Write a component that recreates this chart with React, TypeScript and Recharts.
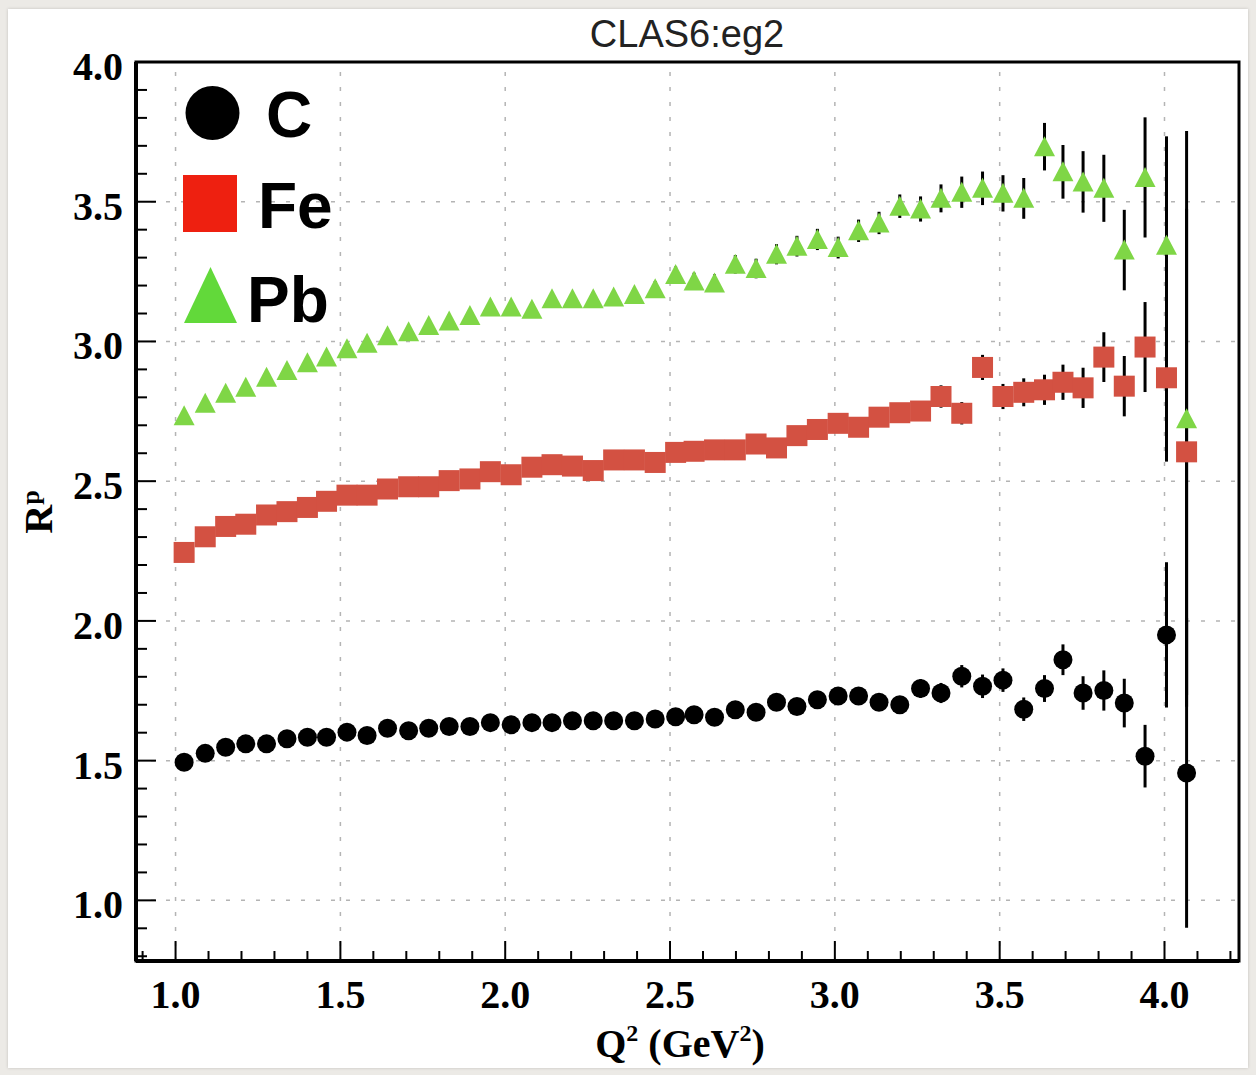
import React from 'react';
import {
  ScatterChart, Scatter, XAxis, YAxis, ErrorBar, ReferenceLine, ReferenceArea,
} from 'recharts';

// Q^2 bin centres (GeV^2), shared by the three targets
const Q2 = [
  1.026, 1.090, 1.152, 1.213, 1.276, 1.338, 1.400, 1.458, 1.520, 1.581,
  1.643, 1.707, 1.768, 1.830, 1.893, 1.955, 2.018, 2.081, 2.142, 2.204,
  2.267, 2.329, 2.392, 2.455, 2.517, 2.573, 2.635, 2.698, 2.761, 2.823,
  2.885, 2.947, 3.010, 3.072, 3.134, 3.197, 3.260, 3.322, 3.385, 3.448,
  3.510, 3.573, 3.636, 3.692, 3.753, 3.816, 3.878, 3.941, 4.006, 4.067,
];

const C_R = [
  1.494, 1.526, 1.548, 1.560, 1.560, 1.578, 1.584, 1.584, 1.602, 1.590,
  1.616, 1.607, 1.616, 1.622, 1.622, 1.636, 1.628, 1.636, 1.636, 1.643,
  1.643, 1.643, 1.643, 1.649, 1.657, 1.664, 1.655, 1.682, 1.673, 1.709,
  1.694, 1.718, 1.731, 1.731, 1.709, 1.700, 1.758, 1.742, 1.802, 1.766,
  1.788, 1.684, 1.758, 1.861, 1.742, 1.751, 1.706, 1.516, 1.950, 1.456,
];
const C_ERR = [
  0.006, 0.006, 0.006, 0.006, 0.007, 0.007, 0.007, 0.007, 0.008, 0.008,
  0.008, 0.008, 0.009, 0.009, 0.009, 0.010, 0.010, 0.010, 0.011, 0.011,
  0.012, 0.012, 0.013, 0.014, 0.015, 0.016, 0.017, 0.018, 0.020, 0.021,
  0.022, 0.024, 0.026, 0.027, 0.028, 0.030, 0.033, 0.036, 0.040, 0.042,
  0.042, 0.042, 0.048, 0.055, 0.060, 0.072, 0.087, 0.112, 0.260, 0.554,
];

const FE_R = [
  2.245, 2.301, 2.338, 2.346, 2.379, 2.391, 2.406, 2.428, 2.450, 2.450,
  2.472, 2.480, 2.480, 2.502, 2.508, 2.534, 2.523, 2.550, 2.559, 2.554,
  2.538, 2.576, 2.576, 2.567, 2.603, 2.607, 2.612, 2.612, 2.633, 2.619,
  2.663, 2.685, 2.707, 2.693, 2.729, 2.745, 2.751, 2.803, 2.743, 2.907,
  2.803, 2.818, 2.827, 2.854, 2.834, 2.944, 2.840, 2.980, 2.870, 2.605,
];
const FE_ERR = [
  0.006, 0.006, 0.007, 0.007, 0.007, 0.008, 0.008, 0.008, 0.009, 0.009,
  0.010, 0.010, 0.010, 0.011, 0.011, 0.012, 0.012, 0.013, 0.013, 0.014,
  0.014, 0.015, 0.016, 0.016, 0.017, 0.018, 0.019, 0.020, 0.021, 0.022,
  0.023, 0.024, 0.025, 0.026, 0.027, 0.028, 0.030, 0.040, 0.040, 0.045,
  0.045, 0.050, 0.054, 0.063, 0.072, 0.089, 0.108, 0.161, 0.300, 0.870,
];

const PB_R = [
  2.734, 2.779, 2.815, 2.836, 2.872, 2.896, 2.924, 2.944, 2.974, 2.994,
  3.020, 3.035, 3.057, 3.073, 3.093, 3.123, 3.123, 3.115, 3.153, 3.153,
  3.153, 3.159, 3.168, 3.189, 3.240, 3.216, 3.209, 3.276, 3.261, 3.312,
  3.341, 3.365, 3.336, 3.396, 3.424, 3.484, 3.474, 3.512, 3.534, 3.548,
  3.530, 3.512, 3.697, 3.607, 3.571, 3.548, 3.327, 3.587, 3.344, 2.723,
];
const PB_ERR = [
  0.010, 0.010, 0.011, 0.011, 0.012, 0.012, 0.013, 0.013, 0.014, 0.014,
  0.015, 0.015, 0.016, 0.017, 0.017, 0.018, 0.019, 0.020, 0.021, 0.022,
  0.023, 0.024, 0.025, 0.027, 0.028, 0.030, 0.031, 0.033, 0.035, 0.036,
  0.037, 0.038, 0.039, 0.040, 0.040, 0.042, 0.045, 0.050, 0.056, 0.060,
  0.065, 0.073, 0.085, 0.096, 0.110, 0.120, 0.144, 0.215, 0.390, 1.030,
];

const X_TICKS = [
  0.9, 1.0, 1.1, 1.2, 1.3, 1.4, 1.5, 1.6, 1.7, 1.8, 1.9, 2.0, 2.1, 2.2, 2.3, 2.4, 2.5,
  2.6, 2.7, 2.8, 2.9, 3.0, 3.1, 3.2, 3.3, 3.4, 3.5, 3.6, 3.7, 3.8, 3.9, 4.0, 4.1, 4.2,
];
const Y_TICKS = [
  0.8, 0.9, 1.0, 1.1, 1.2, 1.3, 1.4, 1.5, 1.6, 1.7, 1.8, 1.9, 2.0, 2.1, 2.2, 2.3, 2.4,
  2.5, 2.6, 2.7, 2.8, 2.9, 3.0, 3.1, 3.2, 3.3, 3.4, 3.5, 3.6, 3.7, 3.8, 3.9, 4.0,
];
const GRID_X = [1.0, 1.5, 2.0, 2.5, 3.0, 3.5, 4.0];
const GRID_Y = [1.0, 1.5, 2.0, 2.5, 3.0, 3.5];

const build = (ys: number[], errs: number[]) =>
  Q2.map((x, i) => ({ x, y: ys[i], e: errs[i] }));

const isMajor = (v: number) => Math.abs(v * 2 - Math.round(v * 2)) < 1e-6;
const tickFont = { fontFamily: '"Liberation Serif", serif', fontWeight: 700, fontSize: 40, fill: '#000' };

const XTick = (props: any) => {
  const { x, y, payload } = props;
  const major = isMajor(payload.value);
  return (
    <g>
      <line x1={x} x2={x} y1={y} y2={y - (major ? 20 : 10)} stroke="#000" strokeWidth={2} />
      {major && (
        <text x={x} y={y + 47} textAnchor="middle" style={tickFont}>
          {payload.value.toFixed(1)}
        </text>
      )}
    </g>
  );
};

const YTick = (props: any) => {
  const { x, y, payload } = props;
  const major = isMajor(payload.value);
  return (
    <g>
      <line x1={x} x2={x + (major ? 20 : 11)} y1={y} y2={y} stroke="#000" strokeWidth={2} />
      {major && (
        <text x={x - 13} y={y + 18} textAnchor="end" style={tickFont}>
          {payload.value.toFixed(1)}
        </text>
      )}
    </g>
  );
};

const Dot = (props: any) => {
  const { cx, cy } = props;
  return <circle cx={cx} cy={cy} r={9.5} fill="#000" />;
};
const Box = (props: any) => {
  const { cx, cy } = props;
  return <rect x={cx - 10.5} y={cy - 10.5} width={21} height={21} fill="#D35142" />;
};
const Tri = (props: any) => {
  const { cx, cy } = props;
  return <polygon points={`${cx},${cy - 10.5} ${cx + 10.5},${cy + 9.5} ${cx - 10.5},${cy + 9.5}`} fill="#7FD646" />;
};

const legendFont = { fontFamily: '"Liberation Sans", Arial, sans-serif', fontWeight: 700, fontSize: 64, fill: '#000' };

export default function App() {
  return (
    <div style={{ position: 'absolute', left: 0, top: 0, width: 1256, height: 1075, background: '#ECEAE6', overflow: 'hidden' }}>
      <div style={{ position: 'absolute', left: 8, top: 9, width: 1240, height: 1059, background: '#fff', boxShadow: '0 0 3px rgba(0,0,0,0.18)' }} />
      <div style={{ position: 'absolute', left: 0, top: 0 }}>
        <ScatterChart width={1256} height={1075} margin={{ top: 62, right: 17, bottom: 34, left: 36 }}>
          <XAxis
            type="number" dataKey="x" domain={[0.88, 4.226]} allowDataOverflow
            ticks={X_TICKS} interval={0} tickSize={0} tickMargin={0} tickLine={false}
            tick={<XTick />} height={80}
            axisLine={{ stroke: '#000', strokeWidth: 4 }}
          />
          <YAxis
            type="number" dataKey="y" domain={[0.783, 4.0]} allowDataOverflow
            ticks={Y_TICKS} interval={0} tickSize={0} tickMargin={0} tickLine={false}
            tick={<YTick />} width={100}
            axisLine={{ stroke: '#000', strokeWidth: 4 }}
          />
          {GRID_X.map((v) => (
            <ReferenceLine key={`gx${v}`} x={v} stroke="#b4b4b4" strokeWidth={1.5} strokeDasharray="4 11" />
          ))}
          {GRID_Y.map((v) => (
            <ReferenceLine key={`gy${v}`} y={v} stroke="#b4b4b4" strokeWidth={1.5} strokeDasharray="4 11" />
          ))}
          <ReferenceArea x1={0.88} x2={4.226} y1={0.783} y2={4.0} fill="none" stroke="#000" strokeWidth={3} ifOverflow="visible" />
          <Scatter name="C" data={build(C_R, C_ERR)} shape={<Dot />} isAnimationActive={false}>
            <ErrorBar dataKey="e" direction="y" width={0} stroke="#000" strokeWidth={3} isAnimationActive={false} />
          </Scatter>
          <Scatter name="Fe" data={build(FE_R, FE_ERR)} shape={<Box />} isAnimationActive={false}>
            <ErrorBar dataKey="e" direction="y" width={0} stroke="#000" strokeWidth={3} isAnimationActive={false} />
          </Scatter>
          <Scatter name="Pb" data={build(PB_R, PB_ERR)} shape={<Tri />} isAnimationActive={false}>
            <ErrorBar dataKey="e" direction="y" width={0} stroke="#000" strokeWidth={3} isAnimationActive={false} />
          </Scatter>
        </ScatterChart>
      </div>
      <svg width={1256} height={1075} style={{ position: 'absolute', left: 0, top: 0, pointerEvents: 'none' }}>
        <text x={687} y={47} textAnchor="middle"
          style={{ fontFamily: '"Liberation Sans", Arial, sans-serif', fontSize: 38, fill: '#222' }}>
          CLAS6:eg2
        </text>
        {/* legend */}
        <circle cx={212.5} cy={113} r={27} fill="#000" />
        <text x={266} y={137} style={legendFont}>C</text>
        <rect x={183} y={175} width={54} height={57} fill="#EE2010" />
        <text x={258} y={228} style={legendFont}>Fe</text>
        <polygon points="210.5,267 237,323 184,323" fill="#62D93A" />
        <text x={247} y={322} style={legendFont}>Pb</text>
        {/* axis titles */}
        <text x={680} y={1057} textAnchor="middle" style={tickFont}>
          Q<tspan fontSize={24} dy={-16}>2</tspan><tspan dy={16}> (GeV</tspan><tspan fontSize={24} dy={-16}>2</tspan><tspan dy={16}>)</tspan>
        </text>
        <text x={52} y={512} textAnchor="middle" transform="rotate(-90 52 512)" style={tickFont}>
          R<tspan fontSize={26} dy={-13}>p</tspan>
        </text>
      </svg>
    </div>
  );
}
